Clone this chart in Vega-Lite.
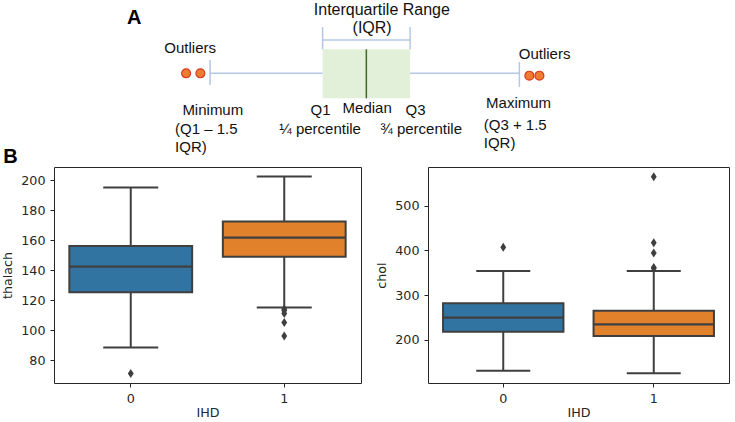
{
  "$schema": "https://vega.github.io/schema/vega-lite/v6.json",
  "padding": {"left": 1, "top": 0, "right": 0, "bottom": 0},
  "background": "white",
  "bounds": "flush",
  "spacing": 12,
  "config": {
    "view": {"stroke": "#262626", "strokeWidth": 1},
    "axis": {"grid": false, "domain": false, "tickColor": "#262626", "tickSize": 4, "tickWidth": 1, "labelFont": "DejaVu Sans", "labelFontSize": 12.7, "labelColor": "#262626", "labelPadding": 5, "labelOverlap": false, "titleFont": "DejaVu Sans", "titleFontSize": 12.7, "titleFontWeight": "normal", "titleColor": "#262626"},
    "text": {"font": "Liberation Sans", "color": "#111111"}
  },
  "datasets": {
    "iqrBox": [{"from": 0, "to": 1, "top": 49.3, "bottom": 98.3}],
    "diagramLines": [
      {"part": "whisker", "u": -1.286, "u2": 0, "v": 73.3, "v2": 73.3},
      {"part": "whisker", "u": 1, "u2": 2.249, "v": 73.3, "v2": 73.3},
      {"part": "cap", "u": -1.286, "u2": -1.286, "v": 60, "v2": 85},
      {"part": "cap", "u": 2.249, "u2": 2.249, "v": 62, "v2": 87},
      {"part": "bracket", "u": 0, "u2": 1, "v": 40, "v2": 40},
      {"part": "bracket", "u": 0, "u2": 0, "v": 27, "v2": 49.3},
      {"part": "bracket", "u": 1, "u2": 1, "v": 27, "v2": 49.3},
      {"part": "median", "u": 0.5, "u2": 0.5, "v": 49.3, "v2": 98.3}
    ],
    "outlierDots": [
      {"u": -1.56, "v": 73.3},
      {"u": -1.397, "v": 73.3},
      {"u": 2.363, "v": 75.7},
      {"u": 2.478, "v": 75.7}
    ],
    "labels": [
      {"text": "Interquartile Range", "u": 0.677, "v": 15, "kind": "heading"},
      {"text": "(IQR)", "u": 0.566, "v": 33.3, "kind": "heading"},
      {"text": "Outliers", "u": -1.514, "v": 53, "kind": "label"},
      {"text": "Outliers", "u": 2.537, "v": 59.3, "kind": "label"},
      {"text": "Minimum", "u": -1.255, "v": 115, "kind": "label"},
      {"text": "Q1", "u": -0.023, "v": 115, "kind": "label"},
      {"text": "Median", "u": 0.509, "v": 112.7, "kind": "label"},
      {"text": "Q3", "u": 1.063, "v": 115, "kind": "label"},
      {"text": "¼ percentile", "u": -0.029, "v": 133.5, "kind": "label"},
      {"text": "¾ percentile", "u": 1.126, "v": 133.5, "kind": "label"},
      {"text": "Maximum", "u": 2.24, "v": 108, "kind": "label"},
      {"text": "(Q1 – 1.5", "u": -1.686, "v": 134, "kind": "note"},
      {"text": "IQR)", "u": -1.686, "v": 152, "kind": "note"},
      {"text": "(Q3 + 1.5", "u": 1.842, "v": 130, "kind": "note"},
      {"text": "IQR)", "u": 1.842, "v": 148, "kind": "note"},
      {"text": "A", "u": -2.237, "v": 24, "kind": "panel"},
      {"text": "B", "u": -3.651, "v": 163, "kind": "panel"}
    ],
    "thalach": [
      {"IHD": "0", "lower": 88.3, "q1": 125.2, "median": 142.3, "q3": 156, "upper": 195.1},
      {"IHD": "1", "lower": 115.1, "q1": 148.9, "median": 161.6, "q3": 172.3, "upper": 202.3}
    ],
    "thalachOut": [
      {"IHD": "0", "value": 71},
      {"IHD": "1", "value": 114},
      {"IHD": "1", "value": 113},
      {"IHD": "1", "value": 111},
      {"IHD": "1", "value": 105},
      {"IHD": "1", "value": 96}
    ],
    "chol": [
      {"IHD": "0", "lower": 131.5, "q1": 218.5, "median": 249.8, "q3": 281.8, "upper": 354},
      {"IHD": "1", "lower": 125.5, "q1": 208.9, "median": 234.9, "q3": 265.4, "upper": 354}
    ],
    "cholOut": [
      {"IHD": "0", "value": 407},
      {"IHD": "1", "value": 564},
      {"IHD": "1", "value": 417},
      {"IHD": "1", "value": 394},
      {"IHD": "1", "value": 362},
      {"IHD": "1", "value": 360}
    ]
  },
  "vconcat": [
    {
      "width": 675,
      "height": 155,
      "view": {"stroke": null},
      "layer": [
        {
          "data": {"name": "iqrBox"},
          "mark": {"type": "rect", "fill": "#e2efd9"},
          "encoding": {
            "x": {"field": "from", "type": "quantitative", "scale": {"domain": [-3.07, 4.645], "nice": false, "zero": false}, "axis": null},
            "x2": {"field": "to"},
            "y": {"field": "top", "type": "quantitative", "scale": {"domain": [0, 155], "reverse": true, "nice": false, "zero": false}, "axis": null},
            "y2": {"field": "bottom"}
          }
        },
        {
          "data": {"name": "diagramLines"},
          "transform": [{"filter": "datum.part != 'median'"}],
          "mark": {"type": "rule", "color": "#b4c7e7", "strokeWidth": 1.5},
          "encoding": {
            "x": {"field": "u", "type": "quantitative", "scale": {"domain": [-3.07, 4.645], "nice": false, "zero": false}, "axis": null},
            "x2": {"field": "u2"},
            "y": {"field": "v", "type": "quantitative", "scale": {"domain": [0, 155], "reverse": true, "nice": false, "zero": false}, "axis": null},
            "y2": {"field": "v2"}
          }
        },
        {
          "data": {"name": "diagramLines"},
          "transform": [{"filter": "datum.part == 'median'"}],
          "mark": {"type": "rule", "color": "#3d6b27", "strokeWidth": 1.5},
          "encoding": {
            "x": {"field": "u", "type": "quantitative", "scale": {"domain": [-3.07, 4.645], "nice": false, "zero": false}, "axis": null},
            "x2": {"field": "u2"},
            "y": {"field": "v", "type": "quantitative", "scale": {"domain": [0, 155], "reverse": true, "nice": false, "zero": false}, "axis": null},
            "y2": {"field": "v2"}
          }
        },
        {
          "data": {"name": "outlierDots"},
          "mark": {"type": "point", "shape": "circle", "filled": true, "fill": "#ee7d31", "stroke": "#d63a1e", "strokeWidth": 1.2, "size": 80, "opacity": 1},
          "encoding": {
            "x": {"field": "u", "type": "quantitative", "scale": {"domain": [-3.07, 4.645], "nice": false, "zero": false}, "axis": null},
            "y": {"field": "v", "type": "quantitative", "scale": {"domain": [0, 155], "reverse": true, "nice": false, "zero": false}, "axis": null}
          }
        },
        {
          "data": {"name": "labels"},
          "transform": [{"filter": "datum.kind == 'heading'"}],
          "mark": {"type": "text", "align": "center", "baseline": "alphabetic", "fontSize": 16},
          "encoding": {
            "x": {"field": "u", "type": "quantitative", "scale": {"domain": [-3.07, 4.645], "nice": false, "zero": false}, "axis": null},
            "y": {"field": "v", "type": "quantitative", "scale": {"domain": [0, 155], "reverse": true, "nice": false, "zero": false}, "axis": null},
            "text": {"field": "text"}
          }
        },
        {
          "data": {"name": "labels"},
          "transform": [{"filter": "datum.kind == 'label'"}],
          "mark": {"type": "text", "align": "center", "baseline": "alphabetic", "fontSize": 15},
          "encoding": {
            "x": {"field": "u", "type": "quantitative", "scale": {"domain": [-3.07, 4.645], "nice": false, "zero": false}, "axis": null},
            "y": {"field": "v", "type": "quantitative", "scale": {"domain": [0, 155], "reverse": true, "nice": false, "zero": false}, "axis": null},
            "text": {"field": "text"}
          }
        },
        {
          "data": {"name": "labels"},
          "transform": [{"filter": "datum.kind == 'note'"}],
          "mark": {"type": "text", "align": "left", "baseline": "alphabetic", "fontSize": 15},
          "encoding": {
            "x": {"field": "u", "type": "quantitative", "scale": {"domain": [-3.07, 4.645], "nice": false, "zero": false}, "axis": null},
            "y": {"field": "v", "type": "quantitative", "scale": {"domain": [0, 155], "reverse": true, "nice": false, "zero": false}, "axis": null},
            "text": {"field": "text"}
          }
        },
        {
          "data": {"name": "labels"},
          "transform": [{"filter": "datum.kind == 'panel'"}],
          "mark": {"type": "text", "align": "left", "baseline": "alphabetic", "fontSize": 20, "fontWeight": "bold", "color": "#000000"},
          "encoding": {
            "x": {"field": "u", "type": "quantitative", "scale": {"domain": [-3.07, 4.645], "nice": false, "zero": false}, "axis": null},
            "y": {"field": "v", "type": "quantitative", "scale": {"domain": [0, 155], "reverse": true, "nice": false, "zero": false}, "axis": null},
            "text": {"field": "text"}
          }
        }
      ]
    },
    {
      "spacing": 67,
      "bounds": "flush",
      "hconcat": [
        {
          "width": 307,
          "height": 216,
          "data": {"name": "thalach"},
          "encoding": {
            "x": {"field": "IHD", "type": "nominal", "scale": {"type": "band", "paddingInner": 0, "paddingOuter": 0}, "axis": {"labelAngle": 0, "title": "IHD", "titlePadding": 2}}
          },
          "layer": [
            {
              "mark": {"type": "rule", "color": "#3f3f3f", "strokeWidth": 2},
              "encoding": {
                "y": {"field": "lower", "type": "quantitative", "title": "thalach", "scale": {"domain": [64.7, 208.7], "nice": false, "zero": false}, "axis": {"values": [80, 100, 120, 140, 160, 180, 200], "titlePadding": 6}},
                "y2": {"field": "upper"}
              }
            },
            {
              "mark": {"type": "bar", "stroke": "#3f3f3f", "strokeWidth": 2, "width": {"band": 0.8}},
              "encoding": {
                "y": {"field": "q1", "type": "quantitative", "title": "thalach", "scale": {"domain": [64.7, 208.7], "nice": false, "zero": false}, "axis": {"values": [80, 100, 120, 140, 160, 180, 200], "titlePadding": 6}},
                "y2": {"field": "q3"},
                "fill": {"field": "IHD", "type": "nominal", "scale": {"domain": ["0", "1"], "range": ["#3274a1", "#e1812c"]}, "legend": null}
              }
            },
            {
              "mark": {"type": "tick", "color": "#3f3f3f", "thickness": 2.2, "size": 122, "opacity": 1},
              "encoding": {
                "y": {"field": "median", "type": "quantitative", "title": "thalach", "scale": {"domain": [64.7, 208.7], "nice": false, "zero": false}, "axis": {"values": [80, 100, 120, 140, 160, 180, 200], "titlePadding": 6}}
              }
            },
            {
              "mark": {"type": "tick", "color": "#3f3f3f", "thickness": 2, "size": 55, "opacity": 1},
              "encoding": {
                "y": {"field": "lower", "type": "quantitative", "title": "thalach", "scale": {"domain": [64.7, 208.7], "nice": false, "zero": false}, "axis": {"values": [80, 100, 120, 140, 160, 180, 200], "titlePadding": 6}}
              }
            },
            {
              "mark": {"type": "tick", "color": "#3f3f3f", "thickness": 2, "size": 55, "opacity": 1},
              "encoding": {
                "y": {"field": "upper", "type": "quantitative", "title": "thalach", "scale": {"domain": [64.7, 208.7], "nice": false, "zero": false}, "axis": {"values": [80, 100, 120, 140, 160, 180, 200], "titlePadding": 6}}
              }
            },
            {
              "data": {"name": "thalachOut"},
              "mark": {"type": "point", "shape": "M0,-1L0.65,0L0,1L-0.65,0Z", "filled": true, "color": "#3f3f3f", "size": 81, "opacity": 1},
              "encoding": {
                "y": {"field": "value", "type": "quantitative", "title": "thalach", "scale": {"domain": [64.7, 208.7], "nice": false, "zero": false}, "axis": {"values": [80, 100, 120, 140, 160, 180, 200], "titlePadding": 6}}
              }
            }
          ]
        },
        {
          "width": 301,
          "height": 216,
          "data": {"name": "chol"},
          "encoding": {
            "x": {"field": "IHD", "type": "nominal", "scale": {"type": "band", "paddingInner": 0, "paddingOuter": 0}, "axis": {"labelAngle": 0, "title": "IHD", "titlePadding": 2}}
          },
          "layer": [
            {
              "mark": {"type": "rule", "color": "#3f3f3f", "strokeWidth": 2},
              "encoding": {
                "y": {"field": "lower", "type": "quantitative", "title": "chol", "scale": {"domain": [104, 586], "nice": false, "zero": false}, "axis": {"values": [200, 300, 400, 500], "titlePadding": 6}},
                "y2": {"field": "upper"}
              }
            },
            {
              "mark": {"type": "bar", "stroke": "#3f3f3f", "strokeWidth": 2, "width": {"band": 0.8}},
              "encoding": {
                "y": {"field": "q1", "type": "quantitative", "title": "chol", "scale": {"domain": [104, 586], "nice": false, "zero": false}, "axis": {"values": [200, 300, 400, 500], "titlePadding": 6}},
                "y2": {"field": "q3"},
                "fill": {"field": "IHD", "type": "nominal", "scale": {"domain": ["0", "1"], "range": ["#3274a1", "#e1812c"]}, "legend": null}
              }
            },
            {
              "mark": {"type": "tick", "color": "#3f3f3f", "thickness": 2.2, "size": 120, "opacity": 1},
              "encoding": {
                "y": {"field": "median", "type": "quantitative", "title": "chol", "scale": {"domain": [104, 586], "nice": false, "zero": false}, "axis": {"values": [200, 300, 400, 500], "titlePadding": 6}}
              }
            },
            {
              "mark": {"type": "tick", "color": "#3f3f3f", "thickness": 2, "size": 54, "opacity": 1},
              "encoding": {
                "y": {"field": "lower", "type": "quantitative", "title": "chol", "scale": {"domain": [104, 586], "nice": false, "zero": false}, "axis": {"values": [200, 300, 400, 500], "titlePadding": 6}}
              }
            },
            {
              "mark": {"type": "tick", "color": "#3f3f3f", "thickness": 2, "size": 54, "opacity": 1},
              "encoding": {
                "y": {"field": "upper", "type": "quantitative", "title": "chol", "scale": {"domain": [104, 586], "nice": false, "zero": false}, "axis": {"values": [200, 300, 400, 500], "titlePadding": 6}}
              }
            },
            {
              "data": {"name": "cholOut"},
              "mark": {"type": "point", "shape": "M0,-1L0.65,0L0,1L-0.65,0Z", "filled": true, "color": "#3f3f3f", "size": 81, "opacity": 1},
              "encoding": {
                "y": {"field": "value", "type": "quantitative", "title": "chol", "scale": {"domain": [104, 586], "nice": false, "zero": false}, "axis": {"values": [200, 300, 400, 500], "titlePadding": 6}}
              }
            }
          ]
        }
      ]
    }
  ]
}
